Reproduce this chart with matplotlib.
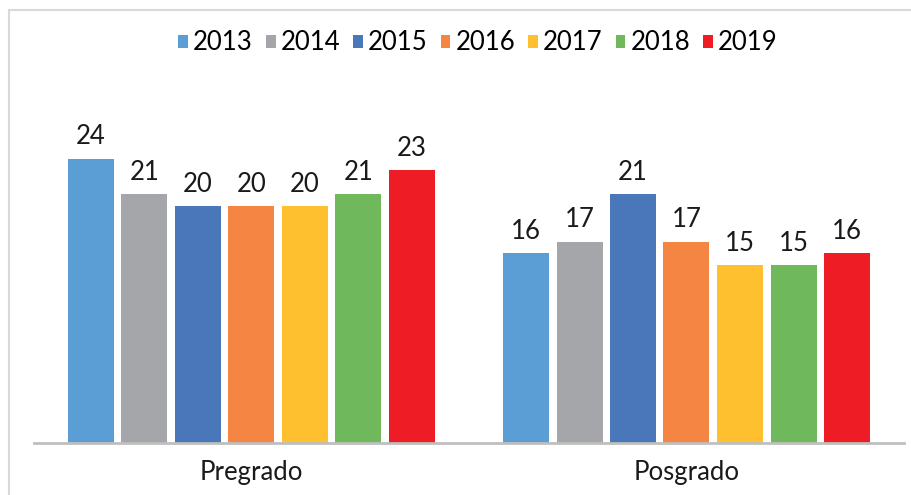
import numpy as np
import matplotlib.pyplot as plt
from matplotlib.patches import Rectangle

categories = ["Pregrado", "Posgrado"]
years = ["2013", "2014", "2015", "2016", "2017", "2018", "2019"]
pregrado = [24, 21, 20, 20, 20, 21, 23]
posgrado = [16, 17, 21, 17, 15, 15, 16]
colors = ["#5B9DD5", "#A5A6A9", "#4A76BA", "#F58542", "#FFC030", "#70B85C", "#EE1C25"]

plt.rcParams['font.family'] = ['Lato', 'DejaVu Sans']

W, H = 912, 495
fig = plt.figure(figsize=(W / 100, H / 100), dpi=100)

# axes placed in pixel terms
x0, x1 = 34, 904
y_base, y_top = 443, 100
ax = fig.add_axes([x0 / W, 1 - y_base / H, (x1 - x0) / W, (y_base - y_top) / H])

px_per_unit = 11.85
ax.set_ylim(0, (y_base - y_top) / px_per_unit)
ax.set_xlim(-0.5, 1.5)

x = np.arange(len(categories))
pitch = 53.5 / 435
width = 46 / 435
data = np.array([pregrado, posgrado])
for i, yr in enumerate(years):
    pos = x + (i - 3) * pitch
    vals = data[:, i]
    bars = ax.bar(pos, vals, width, color=colors[i], label=yr, zorder=2)
    for b, v in zip(bars, vals):
        ax.text(b.get_x() + b.get_width() / 2, v + 0.8, str(v),
                ha='center', va='bottom', fontsize=18.5, color='#1a1a1a')

for s in ['top', 'right', 'left']:
    ax.spines[s].set_visible(False)
ax.spines['bottom'].set_color('#BFBFBF')
ax.spines['bottom'].set_linewidth(2)
ax.set_yticks([])
ax.set_xticks(x)
ax.set_xticklabels(categories, fontsize=18.5, color='#1a1a1a')
ax.tick_params(axis='x', length=0, pad=12)

leg = fig.legend(loc='center', bbox_to_anchor=(478 / W, 1 - 43 / H), ncol=7,
                 frameon=False, fontsize=18.5, handlelength=0.38, handleheight=0.38,
                 handletextpad=0.2, columnspacing=0.5, borderaxespad=0,
                 borderpad=0)

# light frame around chart area
fig.patches.append(Rectangle((9 / W, -0.1), 1.2, 1 - 10 / H + 0.1,
                             transform=fig.transFigure, fill=False,
                             edgecolor='#D9D9D9', linewidth=1.5))

fig.savefig("out.png", dpi=100)
